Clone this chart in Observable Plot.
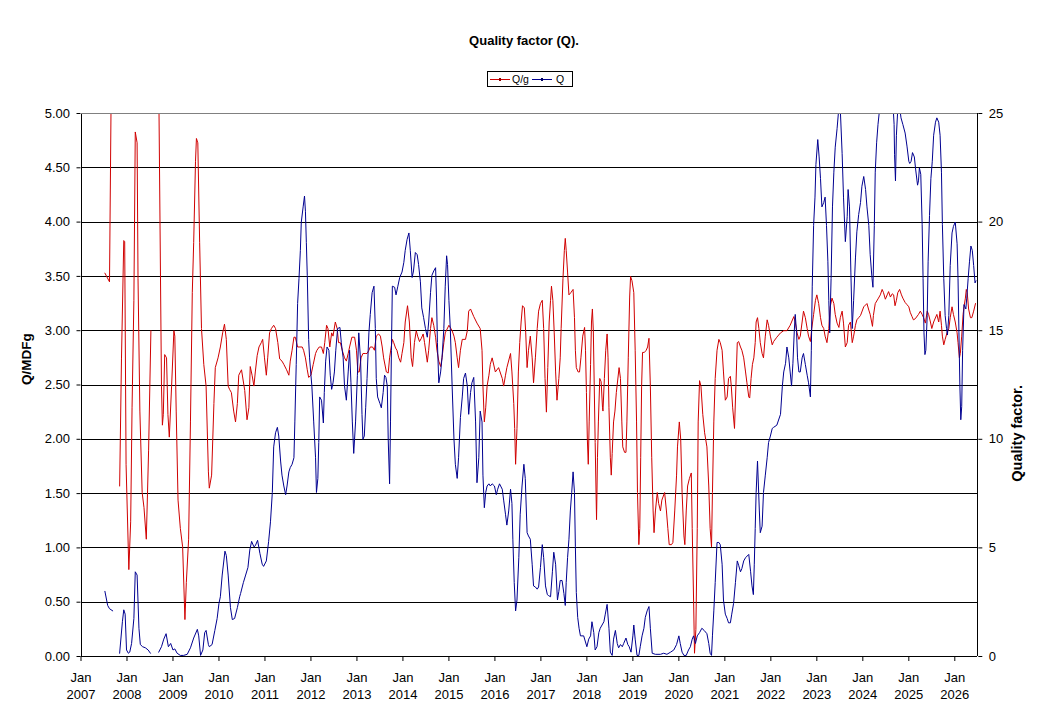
<!DOCTYPE html>
<html>
<head>
<meta charset="utf-8">
<script src="https://cdn.jsdelivr.net/npm/d3@7"></script>
<script src="https://cdn.jsdelivr.net/npm/@observablehq/plot@0.6"></script>
<style>
  html, body { margin: 0; padding: 0; background: #fff; }
  body { width: 1045px; height: 717px; overflow: hidden; font-family: "Liberation Sans", Arial, sans-serif; }
  #head { position: relative; width: 1045px; height: 100px; }
  #title { position: absolute; left: 0; top: 33px; width: 1048px; text-align: center; font-weight: bold; font-size: 13px; line-height: 16px; }
  #legend { position: absolute; left: 487px; top: 71px; width: 84px; height: 14px; border: 1px solid #000; font-size: 10.5px; }
  .sw { position: absolute; top: 7px; width: 20px; height: 1px; }
  .mk { position: absolute; top: 6px; width: 2px; height: 3px; }
  .lt { position: absolute; top: 0; line-height: 14px; }
</style>
</head>
<body>
<div id="head">
  <div id="title">Quality factor (Q).</div>
  <div id="legend">
    <span class="sw" style="left:2px;background:#d00000"></span><span class="mk" style="left:11px;background:#900000"></span>
    <span class="lt" style="left:24px">Q/g</span>
    <span class="sw" style="left:44px;background:#000090"></span><span class="mk" style="left:53px;background:#000060"></span>
    <span class="lt" style="left:68px">Q</span>
  </div>
</div>
<div id="chart"></div>
<script>
// Tick values
const years = [2007,2008,2009,2010,2011,2012,2013,2014,2015,2016,2017,2018,2019,2020,2021,2022,2023,2024,2025,2026];
const qgTicks = [0,0.5,1,1.5,2,2.5,3,3.5,4,4.5,5];
const qTicks = [0,5,10,15,20,25];
const xDomain = [2007, 2026.5];

// Q/g series (left axis), [decimal year, value]; null = gap
const qgSeries = [[2007.52,3.53],[2007.62,3.45],[2007.66,5.4],[2007.75,null],
[2007.84,1.57],[2007.88,2.74],[2007.93,3.83],[2007.95,3.82],[2007.98,1.77],[2008.04,0.80],[2008.08,1.24],[2008.11,2.29],[2008.15,3.28],[2008.18,4.83],[2008.22,4.73],[2008.24,3.48],[2008.28,2.26],[2008.33,1.51],[2008.37,1.37],[2008.42,1.08],[2008.47,1.90],[2008.52,3.0],[2008.6,null],
[2008.69,5.3],[2008.75,2.49],[2008.77,2.13],[2008.79,2.23],[2008.82,2.78],[2008.86,2.75],[2008.89,2.23],[2008.92,2.02],[2008.97,2.49],[2009.02,3.0],[2009.04,2.95],[2009.07,2.26],[2009.11,1.44],[2009.16,1.18],[2009.21,1.01],[2009.26,0.34],[2009.29,0.68],[2009.34,1.08],[2009.38,2.16],[2009.42,3.35],[2009.45,3.81],[2009.49,4.56],[2009.51,4.77],[2009.54,4.73],[2009.58,3.81],[2009.62,3.02],[2009.67,2.69],[2009.72,2.49],[2009.77,1.70],[2009.79,1.55],[2009.84,1.67],[2009.89,2.33],[2009.92,2.66],[2009.98,2.75],[2010.03,2.85],[2010.08,2.98],[2010.12,3.06],[2010.16,2.92],[2010.20,2.49],[2010.23,2.46],[2010.27,2.43],[2010.32,2.26],[2010.36,2.16],[2010.40,2.33],[2010.43,2.59],[2010.49,2.64],[2010.56,2.45],[2010.61,2.18],[2010.65,2.29],[2010.68,2.67],[2010.72,2.59],[2010.76,2.49],[2010.79,2.62],[2010.83,2.77],[2010.87,2.85],[2010.92,2.89],[2010.95,2.92],[2010.99,2.75],[2011.03,2.59],[2011.06,2.75],[2011.10,2.98],[2011.14,3.02],[2011.19,3.05],[2011.23,3.02],[2011.28,2.89],[2011.32,2.74],[2011.37,2.72],[2011.41,2.69],[2011.47,2.64],[2011.52,2.59],[2011.55,2.72],[2011.59,2.82],[2011.63,2.94],[2011.66,2.94],[2011.71,2.85],[2011.76,2.85],[2011.81,2.85],[2011.84,2.82],[2011.88,2.75],[2011.92,2.64],[2011.95,2.57],[2012.00,2.59],[2012.05,2.69],[2012.10,2.79],[2012.13,2.82],[2012.18,2.85],[2012.23,2.85],[2012.27,2.79],[2012.30,2.89],[2012.34,3.05],[2012.37,3.02],[2012.41,2.85],[2012.45,2.98],[2012.48,2.95],[2012.53,3.08],[2012.57,3.02],[2012.60,2.89],[2012.64,2.89],[2012.68,2.82],[2012.73,2.75],[2012.77,2.72],[2012.81,2.79],[2012.84,2.85],[2012.89,2.94],[2012.95,2.94],[2012.99,2.82],[2013.02,2.62],[2013.05,2.62],[2013.09,2.75],[2013.13,2.79],[2013.18,2.79],[2013.22,2.79],[2013.26,2.82],[2013.29,2.85],[2013.34,2.85],[2013.38,2.82],[2013.42,2.95],[2013.47,2.97],[2013.51,2.95],[2013.55,2.85],[2013.58,2.75],[2013.64,2.62],[2013.68,2.61],[2013.71,2.75],[2013.77,2.92],[2013.80,2.89],[2013.84,2.84],[2013.87,2.82],[2013.91,2.75],[2013.95,2.71],[2013.98,2.79],[2014.02,2.89],[2014.05,3.08],[2014.10,3.23],[2014.14,3.08],[2014.18,2.75],[2014.21,2.67],[2014.25,2.89],[2014.29,3.0],[2014.32,2.95],[2014.36,2.90],[2014.40,2.93],[2014.44,2.97],[2014.47,2.89],[2014.53,2.71],[2014.56,2.82],[2014.60,3.02],[2014.63,3.12],[2014.67,3.05],[2014.71,2.94],[2014.74,2.82],[2014.78,2.72],[2014.82,2.67],[2014.85,2.75],[2014.89,2.89],[2014.92,2.98],[2015.00,3.05],[2015.07,3.0],[2015.11,2.95],[2015.14,2.89],[2015.18,2.75],[2015.21,2.66],[2015.25,2.82],[2015.29,2.92],[2015.36,2.92],[2015.40,3.0],[2015.43,3.18],[2015.47,3.20],[2015.54,3.13],[2015.61,3.07],[2015.68,3.02],[2015.72,2.82],[2015.74,2.49],[2015.77,2.16],[2015.80,2.29],[2015.83,2.49],[2015.87,2.59],[2015.90,2.69],[2015.94,2.75],[2016.01,2.62],[2016.08,2.66],[2016.16,2.56],[2016.19,2.49],[2016.23,2.59],[2016.26,2.66],[2016.34,2.79],[2016.37,2.62],[2016.41,2.33],[2016.43,2.10],[2016.45,1.77],[2016.48,2.10],[2016.51,2.62],[2016.54,2.89],[2016.57,3.08],[2016.60,3.23],[2016.64,3.21],[2016.67,2.98],[2016.70,2.66],[2016.73,2.82],[2016.77,2.95],[2016.81,2.75],[2016.84,2.52],[2016.88,2.75],[2016.92,3.02],[2016.95,3.18],[2016.99,3.25],[2017.03,3.28],[2017.06,3.02],[2017.09,2.56],[2017.12,2.25],[2017.15,2.66],[2017.18,3.08],[2017.21,3.28],[2017.23,3.41],[2017.26,3.28],[2017.29,2.98],[2017.32,2.62],[2017.35,2.36],[2017.39,2.56],[2017.42,2.75],[2017.44,3.02],[2017.48,3.48],[2017.51,3.74],[2017.53,3.85],[2017.55,3.74],[2017.58,3.54],[2017.61,3.33],[2017.65,3.35],[2017.70,3.38],[2017.73,3.12],[2017.75,2.82],[2017.77,2.66],[2017.81,2.62],[2017.84,2.62],[2017.87,2.75],[2017.91,2.95],[2017.95,3.03],[2017.97,2.82],[2017.99,2.43],[2018.01,2.00],[2018.03,1.77],[2018.05,2.16],[2018.08,2.69],[2018.10,3.08],[2018.12,3.20],[2018.14,3.0],[2018.16,2.49],[2018.18,1.97],[2018.21,1.26],[2018.23,1.83],[2018.25,2.16],[2018.28,2.56],[2018.31,2.53],[2018.34,2.29],[2018.35,2.26],[2018.38,2.56],[2018.41,2.82],[2018.44,2.97],[2018.46,2.75],[2018.48,2.29],[2018.51,1.83],[2018.53,1.67],[2018.55,1.87],[2018.58,2.16],[2018.61,2.26],[2018.64,2.43],[2018.70,2.66],[2018.73,2.56],[2018.76,2.16],[2018.78,1.93],[2018.82,1.88],[2018.85,1.88],[2018.87,2.16],[2018.90,2.75],[2018.93,3.31],[2018.95,3.50],[2018.98,3.46],[2019.02,3.35],[2019.05,2.82],[2019.08,2.16],[2019.10,1.51],[2019.13,1.03],[2019.15,1.18],[2019.17,1.83],[2019.19,2.49],[2019.21,2.80],[2019.25,2.80],[2019.29,2.82],[2019.32,2.85],[2019.35,2.93],[2019.38,2.49],[2019.41,1.83],[2019.44,1.34],[2019.46,1.14],[2019.49,1.34],[2019.53,1.51],[2019.56,1.41],[2019.60,1.34],[2019.63,1.44],[2019.69,1.51],[2019.73,1.34],[2019.76,1.18],[2019.79,1.03],[2019.84,1.03],[2019.87,1.05],[2019.91,1.34],[2019.95,1.67],[2019.97,1.93],[2020.01,2.16],[2020.04,2.0],[2020.07,1.51],[2020.11,1.11],[2020.13,1.03],[2020.16,1.34],[2020.19,1.57],[2020.23,1.64],[2020.27,1.69],[2020.29,1.18],[2020.32,0.52],[2020.34,0.03],[2020.37,0.25],[2020.40,1.18],[2020.42,2.16],[2020.45,2.54],[2020.48,2.49],[2020.52,2.23],[2020.56,2.06],[2020.61,1.93],[2020.65,1.57],[2020.68,1.18],[2020.71,1.01],[2020.73,1.51],[2020.76,2.16],[2020.79,2.56],[2020.83,2.82],[2020.87,2.92],[2020.90,2.89],[2020.94,2.82],[2020.97,2.62],[2021.01,2.36],[2021.05,2.39],[2021.08,2.56],[2021.12,2.58],[2021.14,2.49],[2021.17,2.29],[2021.21,2.10],[2021.24,2.49],[2021.27,2.89],[2021.30,2.90],[2021.34,2.85],[2021.37,2.82],[2021.41,2.75],[2021.45,2.62],[2021.48,2.52],[2021.52,2.39],[2021.54,2.38],[2021.57,2.56],[2021.60,2.69],[2021.63,2.75],[2021.66,2.89],[2021.68,3.08],[2021.71,3.12],[2021.74,3.02],[2021.77,2.89],[2021.81,2.79],[2021.84,2.75],[2021.88,2.95],[2021.92,3.10],[2021.95,3.05],[2021.99,2.95],[2022.03,2.87],[2022.06,2.90],[2022.13,2.94],[2022.21,2.98],[2022.28,3.0],[2022.35,3.0],[2022.42,3.05],[2022.50,3.13],[2022.53,3.08],[2022.57,2.98],[2022.61,2.92],[2022.64,2.95],[2022.68,3.08],[2022.71,3.18],[2022.75,3.12],[2022.79,3.02],[2022.82,2.95],[2022.86,2.90],[2022.89,3.02],[2022.93,3.15],[2022.97,3.28],[2023.00,3.33],[2023.04,3.25],[2023.08,3.12],[2023.11,3.05],[2023.15,3.02],[2023.18,2.95],[2023.22,2.89],[2023.26,3.02],[2023.29,3.22],[2023.33,3.30],[2023.37,3.25],[2023.40,3.15],[2023.44,3.07],[2023.48,3.03],[2023.51,3.12],[2023.55,3.18],[2023.58,3.07],[2023.62,2.85],[2023.66,2.89],[2023.69,3.05],[2023.73,3.08],[2023.77,2.89],[2023.80,2.95],[2023.84,3.05],[2023.87,3.10],[2023.91,3.12],[2023.95,3.14],[2024.02,3.22],[2024.09,3.25],[2024.13,3.19],[2024.16,3.15],[2024.21,3.04],[2024.23,3.14],[2024.27,3.25],[2024.34,3.30],[2024.38,3.33],[2024.42,3.38],[2024.45,3.35],[2024.49,3.29],[2024.53,3.33],[2024.56,3.36],[2024.60,3.31],[2024.64,3.34],[2024.67,3.33],[2024.70,3.23],[2024.73,3.28],[2024.76,3.35],[2024.80,3.38],[2024.84,3.33],[2024.87,3.30],[2024.92,3.26],[2024.96,3.24],[2025.00,3.22],[2025.03,3.17],[2025.07,3.13],[2025.10,3.10],[2025.14,3.11],[2025.21,3.15],[2025.25,3.18],[2025.29,3.15],[2025.32,3.12],[2025.36,3.07],[2025.40,3.18],[2025.43,3.15],[2025.47,3.08],[2025.50,3.02],[2025.54,3.08],[2025.61,3.15],[2025.65,3.08],[2025.68,3.18],[2025.71,3.05],[2025.73,2.95],[2025.76,2.87],[2025.79,2.92],[2025.83,2.98],[2025.87,3.02],[2025.90,3.12],[2025.94,3.22],[2025.97,3.15],[2026.01,3.08],[2026.05,2.98],[2026.07,2.89],[2026.10,2.75],[2026.12,2.79],[2026.15,2.95],[2026.18,3.15],[2026.20,3.22],[2026.23,3.30],[2026.25,3.38],[2026.27,3.35],[2026.30,3.20],[2026.34,3.12],[2026.37,3.12],[2026.41,3.18],[2026.45,3.25]];

// Q series (right axis, 0-25), [decimal year, value]; null = gap
const qSeries = [[2007.52,3.0],[2007.58,2.35],[2007.62,2.2],[2007.69,2.1],[2007.76,null],
[2007.84,0.15],[2007.90,1.6],[2007.93,2.15],[2007.96,1.95],[2007.99,0.3],[2008.03,0.15],[2008.06,0.2],[2008.10,0.6],[2008.15,1.75],[2008.18,3.9],[2008.22,3.75],[2008.26,1.3],[2008.29,0.55],[2008.34,0.45],[2008.40,0.4],[2008.46,0.3],[2008.51,0.15],[2008.6,null],
[2008.69,0.2],[2008.75,0.45],[2008.80,0.8],[2008.85,1.05],[2008.90,0.45],[2008.95,0.6],[2009.00,0.3],[2009.04,0.35],[2009.09,0.15],[2009.16,0.05],[2009.23,0.05],[2009.31,0.1],[2009.38,0.4],[2009.45,0.85],[2009.53,1.25],[2009.56,0.95],[2009.60,0.05],[2009.65,0.3],[2009.69,1.1],[2009.72,1.2],[2009.77,0.55],[2009.79,0.45],[2009.85,0.55],[2009.91,1.2],[2009.96,1.75],[2010.00,2.45],[2010.03,2.75],[2010.07,3.75],[2010.13,4.85],[2010.16,4.65],[2010.20,3.75],[2010.25,2.25],[2010.29,1.7],[2010.34,1.75],[2010.40,2.25],[2010.45,2.75],[2010.47,2.9],[2010.53,3.4],[2010.58,3.75],[2010.63,4.1],[2010.67,4.9],[2010.71,5.3],[2010.76,5.05],[2010.79,5.1],[2010.84,5.35],[2010.89,4.75],[2010.94,4.25],[2010.97,4.15],[2011.03,4.4],[2011.08,5.3],[2011.12,6.2],[2011.16,7.55],[2011.19,9.65],[2011.23,10.3],[2011.27,10.55],[2011.30,10.15],[2011.34,9.0],[2011.37,8.35],[2011.41,7.85],[2011.45,7.45],[2011.48,7.85],[2011.52,8.5],[2011.55,8.7],[2011.59,8.85],[2011.63,9.15],[2011.65,10.8],[2011.68,13.45],[2011.71,16.25],[2011.74,17.4],[2011.77,18.7],[2011.79,20.0],[2011.83,20.7],[2011.86,21.2],[2011.88,20.5],[2011.90,19.05],[2011.92,17.55],[2011.95,14.6],[2011.97,13.75],[2012.00,12.95],[2012.02,12.45],[2012.06,10.8],[2012.10,9.15],[2012.12,7.55],[2012.15,8.2],[2012.17,9.85],[2012.19,11.95],[2012.23,11.8],[2012.27,10.75],[2012.29,12.15],[2012.32,13.6],[2012.35,14.25],[2012.39,14.1],[2012.42,12.95],[2012.45,12.3],[2012.48,12.6],[2012.51,13.1],[2012.54,14.1],[2012.58,15.1],[2012.63,15.15],[2012.66,14.45],[2012.70,13.75],[2012.73,12.45],[2012.77,11.8],[2012.81,13.1],[2012.84,14.1],[2012.87,12.6],[2012.90,10.8],[2012.93,9.35],[2012.97,10.8],[2013.01,12.95],[2013.04,14.9],[2013.08,13.6],[2013.11,11.15],[2013.13,10.0],[2013.16,10.15],[2013.19,11.45],[2013.22,12.8],[2013.26,14.9],[2013.29,15.75],[2013.33,16.75],[2013.37,17.05],[2013.40,15.1],[2013.42,12.8],[2013.45,11.95],[2013.50,11.65],[2013.53,11.45],[2013.57,12.15],[2013.60,12.95],[2013.63,12.85],[2013.66,12.45],[2013.68,10.0],[2013.71,7.95],[2013.73,10.8],[2013.75,14.1],[2013.77,17.05],[2013.82,17.0],[2013.85,16.65],[2013.89,17.05],[2013.93,17.45],[2013.98,17.7],[2014.02,18.15],[2014.05,18.7],[2014.09,19.2],[2014.13,19.5],[2014.16,18.7],[2014.20,17.45],[2014.23,17.75],[2014.27,18.6],[2014.31,18.5],[2014.34,18.05],[2014.38,17.25],[2014.41,16.05],[2014.45,15.6],[2014.49,15.1],[2014.53,14.7],[2014.56,15.4],[2014.60,16.75],[2014.63,17.55],[2014.67,17.75],[2014.71,17.9],[2014.73,16.55],[2014.75,14.45],[2014.78,12.6],[2014.82,13.1],[2014.85,13.75],[2014.89,15.1],[2014.92,17.05],[2014.95,18.45],[2014.97,18.05],[2015.00,16.4],[2015.03,15.1],[2015.07,12.45],[2015.11,10.0],[2015.14,8.85],[2015.18,8.2],[2015.21,9.15],[2015.25,11.0],[2015.29,11.95],[2015.32,12.8],[2015.36,13.05],[2015.40,12.45],[2015.43,11.15],[2015.47,12.15],[2015.50,12.6],[2015.54,12.85],[2015.58,10.8],[2015.61,8.0],[2015.65,9.15],[2015.68,11.3],[2015.72,10.8],[2015.74,8.35],[2015.77,6.85],[2015.80,7.55],[2015.83,7.85],[2015.87,7.95],[2015.90,7.85],[2015.94,7.95],[2015.99,7.85],[2016.03,7.45],[2016.06,7.7],[2016.10,7.95],[2016.16,7.7],[2016.19,7.2],[2016.23,6.55],[2016.26,6.05],[2016.30,6.7],[2016.34,7.7],[2016.37,7.05],[2016.39,5.4],[2016.42,3.4],[2016.45,2.1],[2016.48,2.6],[2016.52,4.55],[2016.55,6.55],[2016.59,7.85],[2016.63,8.85],[2016.66,8.2],[2016.70,5.7],[2016.73,5.55],[2016.77,5.4],[2016.81,4.25],[2016.84,3.25],[2016.88,3.2],[2016.92,3.1],[2016.95,3.2],[2016.99,4.1],[2017.03,5.15],[2017.06,4.55],[2017.10,3.25],[2017.14,2.85],[2017.17,2.8],[2017.21,2.75],[2017.25,3.9],[2017.28,4.8],[2017.32,4.25],[2017.36,2.6],[2017.39,3.0],[2017.42,3.5],[2017.46,3.5],[2017.50,2.9],[2017.53,2.35],[2017.55,3.4],[2017.58,4.55],[2017.61,5.4],[2017.64,6.7],[2017.67,7.55],[2017.70,8.5],[2017.73,7.55],[2017.75,5.05],[2017.77,2.95],[2017.80,1.8],[2017.83,1.3],[2017.86,0.95],[2017.93,0.95],[2018.00,0.45],[2018.04,0.8],[2018.08,0.95],[2018.11,1.6],[2018.15,1.1],[2018.18,0.3],[2018.22,0.45],[2018.26,1.1],[2018.29,1.3],[2018.33,1.45],[2018.37,1.6],[2018.40,1.95],[2018.44,2.4],[2018.48,1.3],[2018.51,0.2],[2018.55,0.05],[2018.58,0.8],[2018.62,1.2],[2018.66,0.6],[2018.69,0.4],[2018.73,0.55],[2018.77,0.45],[2018.80,0.6],[2018.85,0.85],[2018.89,0.55],[2018.92,0.45],[2018.96,0.2],[2019.00,0.95],[2019.02,1.45],[2019.05,0.8],[2019.09,0.05],[2019.13,0.05],[2019.16,0.45],[2019.20,0.95],[2019.24,1.3],[2019.27,1.8],[2019.31,2.1],[2019.35,2.3],[2019.38,1.3],[2019.42,0.15],[2019.49,0.1],[2019.60,0.1],[2019.67,0.15],[2019.74,0.1],[2019.82,0.2],[2019.89,0.3],[2019.95,0.55],[2020.00,0.95],[2020.03,0.6],[2020.07,0.2],[2020.11,0.05],[2020.16,0.05],[2020.21,0.3],[2020.25,0.45],[2020.29,0.8],[2020.32,0.95],[2020.36,0.6],[2020.40,0.95],[2020.45,1.1],[2020.50,1.3],[2020.55,1.2],[2020.61,1.05],[2020.65,0.6],[2020.68,0.15],[2020.71,0.05],[2020.73,0.95],[2020.76,2.1],[2020.79,3.4],[2020.83,5.25],[2020.87,5.25],[2020.90,5.15],[2020.94,4.25],[2020.97,2.6],[2021.01,1.95],[2021.05,1.75],[2021.08,1.55],[2021.12,1.55],[2021.15,1.95],[2021.19,2.45],[2021.23,3.4],[2021.27,4.4],[2021.30,4.2],[2021.34,3.9],[2021.37,4.05],[2021.41,4.4],[2021.45,4.55],[2021.52,4.7],[2021.56,3.9],[2021.59,3.25],[2021.62,2.85],[2021.64,4.25],[2021.66,5.9],[2021.68,7.55],[2021.71,9.0],[2021.73,7.85],[2021.75,6.7],[2021.77,5.7],[2021.81,6.0],[2021.84,7.55],[2021.88,8.35],[2021.92,9.15],[2021.95,9.85],[2021.99,10.15],[2022.03,10.5],[2022.06,10.55],[2022.13,10.65],[2022.21,11.15],[2022.25,12.45],[2022.28,13.1],[2022.32,13.5],[2022.35,14.25],[2022.39,13.75],[2022.42,13.1],[2022.45,12.45],[2022.48,13.5],[2022.51,15.0],[2022.53,15.75],[2022.56,14.9],[2022.58,13.75],[2022.61,13.1],[2022.64,13.1],[2022.68,13.75],[2022.71,13.95],[2022.75,13.45],[2022.79,12.95],[2022.82,12.6],[2022.86,11.95],[2022.88,14.1],[2022.90,17.05],[2022.93,19.85],[2022.96,21.15],[2022.98,22.65],[2023.02,23.8],[2023.05,23.0],[2023.08,22.0],[2023.11,20.7],[2023.15,20.9],[2023.18,21.15],[2023.21,19.85],[2023.24,18.2],[2023.26,16.4],[2023.28,14.9],[2023.31,17.4],[2023.34,20.7],[2023.37,22.3],[2023.40,23.45],[2023.44,24.3],[2023.48,25.3],[2023.51,25.2],[2023.55,23.15],[2023.58,21.15],[2023.62,19.1],[2023.66,20.25],[2023.68,21.5],[2023.71,20.7],[2023.74,17.7],[2023.77,15.1],[2023.80,16.4],[2023.84,18.35],[2023.87,19.55],[2023.91,20.35],[2023.95,20.9],[2023.98,21.65],[2024.02,22.1],[2024.06,21.5],[2024.09,20.7],[2024.13,19.85],[2024.16,18.5],[2024.20,17.4],[2024.22,17.0],[2024.25,19.85],[2024.27,22.3],[2024.30,23.65],[2024.33,24.5],[2024.36,25.1],[2024.42,26.0],[2024.53,26.5],[2024.64,26.0],[2024.68,24.5],[2024.69,23.1],[2024.71,21.9],[2024.73,24.0],[2024.76,25.2],[2024.80,25.3],[2024.83,24.8],[2024.87,24.5],[2024.92,24.1],[2024.96,23.5],[2025.00,22.8],[2025.02,22.7],[2025.05,22.8],[2025.08,23.2],[2025.12,23.0],[2025.15,22.4],[2025.19,21.7],[2025.21,21.9],[2025.23,22.5],[2025.26,22.2],[2025.29,19.9],[2025.31,17.4],[2025.33,14.9],[2025.35,13.9],[2025.37,14.1],[2025.40,15.7],[2025.42,18.2],[2025.45,20.3],[2025.48,22.0],[2025.51,22.8],[2025.54,24.0],[2025.58,24.6],[2025.61,24.8],[2025.65,24.6],[2025.68,24.0],[2025.71,22.3],[2025.73,19.9],[2025.76,17.4],[2025.79,15.7],[2025.82,15.1],[2025.84,14.8],[2025.87,15.7],[2025.90,18.0],[2025.94,19.5],[2025.97,19.8],[2026.01,20.0],[2026.05,19.0],[2026.07,17.4],[2026.09,14.9],[2026.11,12.5],[2026.13,10.9],[2026.15,11.5],[2026.17,14.1],[2026.20,16.2],[2026.22,16.1],[2026.24,16.0],[2026.26,16.5],[2026.29,17.4],[2026.32,18.2],[2026.35,18.9],[2026.38,18.7],[2026.41,18.0],[2026.44,17.2],[2026.46,17.3]];

const qMax = 25, qgMax = 5;
const toLeft = v => v == null ? null : v * qgMax / qMax;

const chart = Plot.plot({
  width: 1045,
  height: 617,
  marginTop: 13,
  marginBottom: 61,
  marginLeft: 80.5,
  marginRight: 67.7,
  style: { fontFamily: "'Liberation Sans', Arial, sans-serif", fontSize: "13px", color: "#000", background: "#fff" },
  x: { type: "linear", domain: xDomain, label: null },
  y: { domain: [0, qgMax], label: null },
  marks: [
    Plot.gridY(qgTicks.slice(1, -1), { stroke: "#000", strokeOpacity: 1, strokeWidth: 1, shapeRendering: "crispEdges" }),
    Plot.line(qgSeries, { x: d => d[0], y: d => d[1], stroke: "#d00000", strokeWidth: 1, clip: true }),
    Plot.line(qSeries, { x: d => d[0], y: d => toLeft(d[1]), stroke: "#000090", strokeWidth: 1, clip: true }),
    Plot.ruleY([0], { stroke: "#000", strokeWidth: 1, shapeRendering: "crispEdges" }),
    Plot.ruleX([xDomain[0]], { stroke: "#000", strokeWidth: 1, shapeRendering: "crispEdges" }),
    Plot.ruleX([xDomain[1]], { stroke: "#000", strokeWidth: 1, shapeRendering: "crispEdges" }),
    Plot.axisY(qgTicks, { anchor: "left", tickSize: 4, tickPadding: 7, tickFormat: d3.format(".2f"), fontSize: 13, label: null }),
    Plot.axisY(qTicks.map(toLeft), { anchor: "right", tickSize: 4, tickPadding: 7, tickFormat: d => String(Math.round(d * qMax / qgMax)), fontSize: 13, label: null }),
    Plot.axisX(years, { anchor: "bottom", tickSize: 5, tickPadding: 9, tickFormat: d => `Jan\n${d}`, fontSize: 13, lineHeight: 1.27, label: null }),
    Plot.text(["Q/MDFg"], { text: d => d, frameAnchor: "left", dx: -54, rotate: -90, fontWeight: "bold", fontSize: 13.5 }),
    Plot.text(["Quality factor."], { text: d => d, frameAnchor: "right", dx: 39.5, rotate: -90, fontWeight: "bold", fontSize: 14.5 }),
    Plot.ruleY([qgMax], { stroke: "#808080", strokeWidth: 1, shapeRendering: "crispEdges", x1: xDomain[0], x2: xDomain[1] })
  ]
});
document.getElementById("chart").appendChild(chart);
</script>
</body>
</html>
